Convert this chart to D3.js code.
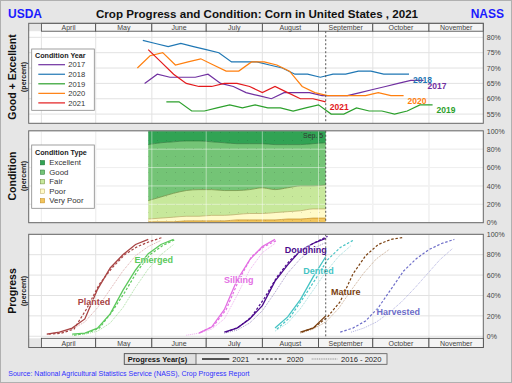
<!DOCTYPE html>
<html><head><meta charset="utf-8">
<script src="https://cdn.jsdelivr.net/npm/d3@7"></script>
<style>body{margin:0;background:#fff}svg{display:block;font-family:"Liberation Sans",Arial,sans-serif}</style>
</head><body><svg id="c" width="512" height="383"></svg>
<script>
// ---------------- DATA ----------------
const months = ["April","May","June","July","August","September","October","November"];
const monthStarts = ["2021-04-01","2021-05-01","2021-06-01","2021-07-01","2021-08-01","2021-09-01","2021-10-01","2021-11-01","2021-12-01"];
const currentWeek = "2021-09-05";

// Good + Excellent (%), weekly from start date
const condYears = ["2017","2018","2019","2020","2021"];
const condStarts = ["2017-05-28","2018-05-27","2019-06-09","2020-05-24","2021-05-30"];
const ge2017 = [65,68,67,67,67,68,65,64,62,61,60,62,62,62,61,61,61,62,63,64,65,66,66];
const ge2018 = [79,78,77,78,77,76,75,72,72,72,71,70,68,68,67,68,68,69,69,68,68,68];
const ge2019 = [59,59,56,56,57,58,57,58,57,57,56,57,58,55,55,57,56,56,55,56,58,58];
const ge2020 = [70,74,75,71,72,73,71,69,69,72,72,71,69,64,62,61,61,61,61,62,61,61];
const ge2021 = [76,72,68,65,64,64,65,65,64,62,64,62,60,60,59];

// 2021 condition categories (%), weekly from 2021-05-30
const condTypes = ["Excellent","Good","Fair","Poor","Very Poor"];
const condStart2021 = "2021-05-30";
const veryPoor = [1,1,1,2,2,2,2,3,3,3,3,4,4,5,5];
const poor     = [3,4,5,5,5,6,6,6,7,7,8,8,9,10,10];
const fair     = [20,23,26,28,29,28,27,26,26,28,25,26,27,25,26];
const good     = [61,59,56,54,53,52,52,51,50,48,49,47,45,46,46];
const excellent= [15,13,12,11,11,12,13,14,14,14,15,15,15,14,13];

// Progress (%), weekly from start dates
const stages = ["Planted","Emerged","Silking","Doughing","Dented","Mature","Harvested"];
const plantedStarts = ["2021-04-04","2020-04-05","2021-04-04"];
const planted2021 = [2,4,8,17,46,67,80,90,95];
const planted2020 = [2,3,7,27,51,67,80,88,93,97];
const plantedAvg  = [2,4,7,14,28,46,64,79,88,94];
const emergedStarts = ["2021-04-18","2020-04-19","2021-04-18"];
const emerged2021 = [2,3,8,22,45,65,81,90,95];
const emerged2020 = [1,3,8,24,43,64,80,89,95];
const emergedAvg  = [1,2,5,13,28,48,66,80,90];
const silkingStarts = ["2021-06-27","2020-06-28","2021-06-20"];
const silking2021 = [3,9,26,55,75,88,95];
const silking2020 = [4,10,26,55,78,88,94];
const silkingAvg  = [1,3,7,17,40,65,82,91];
const doughingStarts = ["2021-07-11","2020-07-12","2021-07-11"];
const doughing2021 = [4,8,17,30,54,70,84,91,96];
const doughing2020 = [4,9,19,37,58,74,85,92,98];
const doughingAvg  = [3,6,13,25,43,62,76,86,92];
const dentedStarts = ["2021-08-08","2020-08-09","2021-08-08"];
const dented2021 = [8,19,36,58,78];
const dented2020 = [7,18,36,55,75,87,94];
const dentedAvg  = [5,13,27,45,63,78,89];
const matureStarts = ["2021-08-22","2020-08-23","2021-08-22"];
const mature2021 = [4,8,20];
const mature2020 = [4,9,19,34,61,79,90,95,97];
const matureAvg  = [3,7,14,27,45,62,76,85];
const harvestedStarts = [null,"2020-09-13","2021-09-19"];
const harvested2021 = [];
const harvested2020 = [4,8,15,28,46,64,76,85,91,95];
const harvestedAvg  = [4,8,14,23,34,47,61,75,86];

const yTicksTop = [55,60,65,70,75,80];
const yTicksPct = [0,20,40,60,80,100];
const progressYears = ["2021","2020","2016 - 2020"];

// ---------------- DRAW ----------------
const parse = d3.timeParse("%Y-%m-%d");
const to2021 = d => new Date(2021, d.getMonth(), d.getDate());
const weekly = (start, vals) => { const s = parse(start); return vals.map((v,i)=>({date: to2021(d3.timeDay.offset(s, 7*i)), v})); };

const svg = d3.select("#c");
const X0 = 28.7, X1 = 483.3;
const x = d3.scaleTime().domain([new Date(2021,2,25), new Date(2021,11,1)]).range([X0, X1]);
const yTop = d3.scaleLinear().domain([52,82]).range([123.3,31.2]);
const yMid = d3.scaleLinear().domain([0,100]).range([222.7,130.8]);
const yBot = d3.scaleLinear().domain([-2,100]).range([338.3,234.3]);
const mDates = monthStarts.map(parse);
const cur = parse(currentWeek);

// background
svg.append("rect").attr("x",0.5).attr("y",0.5).attr("width",511).attr("height",382).attr("fill","#e6e6e6").attr("stroke","#b0b0b0");

// title
svg.append("text").attr("x",257).attr("y",17.5).attr("text-anchor","middle").attr("font-size",11.6).attr("font-weight","bold").attr("fill","#111").text("Crop Progress and Condition: Corn in United States , 2021");
svg.append("text").attr("x",8).attr("y",17.5).attr("font-size",12).attr("font-weight","bold").attr("fill","#1a1aff").text("USDA");
svg.append("text").attr("x",504).attr("y",17.5).attr("text-anchor","end").attr("font-size",12).attr("font-weight","bold").attr("fill","#1a1aff").text("NASS");

function panel(y0, y1) {
  svg.append("rect").attr("x",X0).attr("y",y0).attr("width",X1-X0).attr("height",y1-y0).attr("fill","#fff");
}
function grid(ys, yscale, y0, y1, col) {
  const g = svg.append("g");
  g.selectAll(".h").data(ys).join("line").attr("x1",X0).attr("x2",X1).attr("y1",d=>yscale(d)).attr("y2",d=>yscale(d)).attr("stroke",col||"#e2e2e2").attr("stroke-width",1);
  g.selectAll(".v").data(mDates.slice(0,8)).join("line").attr("x1",d=>x(d)).attr("x2",d=>x(d)).attr("y1",y0).attr("y2",y1).attr("stroke",col||"#e2e2e2").attr("stroke-width",1);
  return g;
}
function frame(y0, y1) {
  svg.append("rect").attr("x",X0).attr("y",y0).attr("width",X1-X0).attr("height",y1-y0).attr("fill","none").attr("stroke","#666").attr("stroke-width",1);
}
function monthHeader(y0, y1) {
  const g = svg.append("g");
  months.forEach((m,i)=>{
    const a = Math.max(X0, x(mDates[i])), b = Math.min(X1, x(mDates[i+1]));
    g.append("rect").attr("x",a).attr("y",y0).attr("width",b-a).attr("height",y1-y0).attr("fill","#f4f4f4").attr("stroke","#444").attr("stroke-width",0.8);
    g.append("text").attr("x",(a+b)/2).attr("y",y1-1.6).attr("text-anchor","middle").attr("font-size",7).attr("fill","#444").text(m);
  });
}
function rightAxis(yscale, ticks) {
  const ax = d3.axisRight(yscale).tickValues(ticks).tickFormat(d=>d+"%").tickSize(0).tickPadding(3.5);
  const g = svg.append("g").attr("transform",`translate(${X1},0)`).call(ax);
  g.select(".domain").remove();
  g.selectAll("text").attr("font-size",7).attr("fill","#444").attr("font-family","Liberation Sans, Arial, sans-serif");
}
function curLine(y0,y1){
  svg.append("line").attr("x1",x(cur)).attr("x2",x(cur)).attr("y1",y0).attr("y2",y1).attr("stroke","#444").attr("stroke-width",0.9).attr("stroke-dasharray","2,2");
}
function yTitle(big, cy) {
  svg.append("text").attr("transform",`translate(16,${cy}) rotate(-90)`).attr("text-anchor","middle").attr("font-size",10.5).attr("font-weight","bold").attr("fill","#111").text(big);
  svg.append("text").attr("transform",`translate(25.5,${cy}) rotate(-90)`).attr("text-anchor","middle").attr("font-size",7).attr("font-weight","bold").attr("fill","#222").text("(percent)");
}

// ---------- TOP PANEL ----------
panel(31.2,123.3);
grid(yTicksTop, yTop, 31.2, 123.3);
const condColors = ["#7030a0","#1f77b4","#2ca02c","#ff7f0e","#e31a1c"];
const condSeries = [ge2017,ge2018,ge2019,ge2020,ge2021].map((vals,i)=>({year:condYears[i], color:condColors[i], pts:weekly(condStarts[i], vals)}));
const lineTop = d3.line().x(d=>x(d.date)).y(d=>yTop(d.v));
condSeries.forEach(s=>{
  svg.append("path").attr("d",lineTop(s.pts)).attr("fill","none").attr("stroke",s.color).attr("stroke-width",1.2);
});
condSeries.forEach(s=>{
  const last = s.pts[s.pts.length-1];
  svg.append("text").attr("x",x(last.date)+4).attr("y",yTop(last.v)+8.5).attr("font-size",8.5).attr("font-weight","bold").attr("fill",s.color).text(s.year);
});
curLine(31.2,123.3);
monthHeader(23.3,31.2);
frame(23.3,123.3);
rightAxis(yTop, yTicksTop);
yTitle("Good + Excellent", 77);
// legend
{
  const g = svg.append("g");
  g.append("rect").attr("x",31.7).attr("y",49).attr("width",62.6).attr("height",61.3).attr("fill","#fff").attr("stroke","#888").attr("stroke-width",0.8);
  g.append("text").attr("x",35).attr("y",57.5).attr("font-size",7.2).attr("font-weight","bold").attr("fill","#222").text("Condition Year");
  condSeries.forEach((s,i)=>{
    const yy = 64.7 + i*9.55;
    g.append("line").attr("x1",38.3).attr("x2",65).attr("y1",yy).attr("y2",yy).attr("stroke",s.color).attr("stroke-width",1.2);
    g.append("text").attr("x",68.3).attr("y",yy+2.7).attr("font-size",7.6).attr("fill","#333").text(s.year);
  });
}

// ---------- MIDDLE PANEL ----------
panel(130.8,222.7);
grid(yTicksPct, yMid, 130.8, 222.7);
const condRows = veryPoor.map((_,i)=>({date: to2021(d3.timeDay.offset(parse(condStart2021),7*i)), "Very Poor":veryPoor[i], "Poor":poor[i], "Fair":fair[i], "Good":good[i], "Excellent":excellent[i]}));
const stackKeys = ["Very Poor","Poor","Fair","Good","Excellent"];
const fills = {"Excellent":"#31a354","Good":"#74c476","Fair":"#c7e89b","Poor":"#fffac8","Very Poor":"#f2c55c"};
const edges = {"Excellent":"#1b6e2f","Good":"#2d7a38","Fair":"#6d8a3a","Poor":"#b8a860","Very Poor":"#c08a20"};
const stacked = d3.stack().keys(stackKeys)(condRows);
const area = d3.area().x(d=>x(d.data.date)).y0(d=>yMid(d[0])).y1(d=>yMid(d[1])).curve(d3.curveMonotoneX);
const defs = svg.append("defs");
const pat = defs.append("pattern").attr("id","dots").attr("width",9).attr("height",8).attr("patternUnits","userSpaceOnUse");
pat.append("rect").attr("x",4).attr("y",4).attr("width",0.8).attr("height",0.8).attr("fill","#000").attr("opacity",0.18);
stacked.forEach(layer=>{
  svg.append("path").attr("d",area(layer)).attr("fill",fills[layer.key]);
  svg.append("path").attr("d",area(layer)).attr("fill","url(#dots)");
});
const topEdge = d3.line().x(d=>x(d.data.date)).y(d=>yMid(d[1])).curve(d3.curveMonotoneX);
stacked.slice(0,4).forEach(layer=>{
  svg.append("path").attr("d",topEdge(layer)).attr("fill","none").attr("stroke",edges[layer.key]).attr("stroke-width",0.7);
});
grid(yTicksPct, yMid, 130.8, 222.7, "rgba(255,255,255,0.45)");
curLine(130.8,222.7);
svg.append("text").attr("x",x(cur)-2.5).attr("y",138).attr("text-anchor","end").attr("font-size",7).attr("fill","#333").text("Sep. 5");
frame(130.8,222.7);
rightAxis(yMid, yTicksPct);
yTitle("Condition", 176);
{
  const g = svg.append("g");
  g.append("rect").attr("x",31.7).attr("y",145).attr("width",62.6).attr("height",63.3).attr("fill","#fff").attr("stroke","#888").attr("stroke-width",0.8);
  g.append("text").attr("x",35).attr("y",155.2).attr("font-size",7.2).attr("font-weight","bold").attr("fill","#222").text("Condition Type");
  condTypes.forEach((k,i)=>{
    const yy = 162.7 + i*9.5;
    g.append("rect").attr("x",40.3).attr("y",yy-2.2).attr("width",4.4).attr("height",4.4).attr("fill",fills[k]).attr("stroke",edges[k]).attr("stroke-width",0.5);
    g.append("text").attr("x",49.3).attr("y",yy+2.7).attr("font-size",7.8).attr("fill","#333").text(k);
  });
}

// ---------- BOTTOM PANEL ----------
panel(234.3,338.3);
grid(yTicksPct, yBot, 234.3, 338.3);
const stageData = [
  {name:"Planted",  color:"#a84444", light:"#dcaaaa", starts:plantedStarts,  s:[planted2021,planted2020,plantedAvg],   lab:["2021-04-30",34]},
  {name:"Emerged",  color:"#5cc95c", light:"#a8e0a0", starts:emergedStarts,  s:[emerged2021,emerged2020,emergedAvg],   lab:["2021-06-02",75]},
  {name:"Silking",  color:"#e36fe3", light:"#f0b0f0", starts:silkingStarts,  s:[silking2021,silking2020,silkingAvg],   lab:["2021-07-19",55]},
  {name:"Doughing", color:"#4b0a8c", light:"#a89cc8", starts:doughingStarts, s:[doughing2021,doughing2020,doughingAvg],lab:["2021-08-25",85]},
  {name:"Dented",   color:"#45c4c4", light:"#9edcdc", starts:dentedStarts,   s:[dented2021,dented2020,dentedAvg],      lab:["2021-09-01",64]},
  {name:"Mature",   color:"#7a4010", light:"#c8aa90", starts:matureStarts,   s:[mature2021,mature2020,matureAvg],      lab:["2021-09-16",44]},
  {name:"Harvested",color:"#6c6cc8", light:"#b0b0e0", starts:harvestedStarts,s:[harvested2021,harvested2020,harvestedAvg],lab:["2021-10-15",24]}
];
const lineBot = d3.line().x(d=>x(d.date)).y(d=>yBot(d.v));
const styles = [
  {w:1.3, dash:null, col:"color"},
  {w:1.2, dash:"2.5,1.8", col:"color"},
  {w:1.0, dash:"1,1", col:"light"}
];
stageData.forEach(st=>{
  [2,1,0].forEach(k=>{
    const vals = st.s[k];
    if (!vals.length) return;
    const pts = weekly(st.starts[k], vals);
    svg.append("path").attr("d",lineBot(pts)).attr("fill","none").attr("stroke",st[styles[k].col]).attr("stroke-width",styles[k].w).attr("stroke-dasharray",styles[k].dash);
  });
});
stageData.forEach(st=>{
  svg.append("text").attr("x",x(parse(st.lab[0]))).attr("y",yBot(st.lab[1])+3.2).attr("text-anchor","middle").attr("font-size",9).attr("font-weight","bold")
    .attr("fill",st.color).attr("stroke","#fff").attr("stroke-width",1.6).attr("stroke-opacity",0.6).attr("paint-order","stroke").text(st.name);
});
curLine(234.3,338.3);
frame(234.3,347.5);
monthHeader(338.3,347.5);
rightAxis(yBot, yTicksPct);
yTitle("Progress", 291);

// bottom legend
{
  const g = svg.append("g");
  g.append("rect").attr("x",124.3).attr("y",353.7).attr("width",262.7).attr("height",10.6).attr("fill","#ececec").attr("stroke","#555").attr("stroke-width",0.8);
  g.append("rect").attr("x",124.3).attr("y",353.7).attr("width",71.7).attr("height",10.6).attr("fill","#e0e0e0").attr("stroke","#555").attr("stroke-width",0.8);
  g.append("text").attr("x",127.7).attr("y",361.7).attr("font-size",7.5).attr("font-weight","bold").attr("fill","#111").text("Progress Year(s)");
  const xs = [[202,229.3,232.3],[257.3,282.7,286.7],[311.7,337.3,341]];
  const dashes = [null,"2.5,1.8","1,0.8"];
  const cols = ["#000","#000","#888"];
  const ws = [1.3,1.2,1];
  progressYears.forEach((t,i)=>{
    g.append("line").attr("x1",xs[i][0]).attr("x2",xs[i][1]).attr("y1",359).attr("y2",359).attr("stroke",cols[i]).attr("stroke-width",ws[i]).attr("stroke-dasharray",dashes[i]);
    g.append("text").attr("x",xs[i][2]).attr("y",361.7).attr("font-size",7.6).attr("fill","#222").text(t);
  });
}
svg.append("text").attr("x",8.3).attr("y",375.5).attr("font-size",7).attr("fill","#3030ff").text("Source: National Agricultural Statistics Service (NASS), Crop Progress Report");
</script></body></html>
